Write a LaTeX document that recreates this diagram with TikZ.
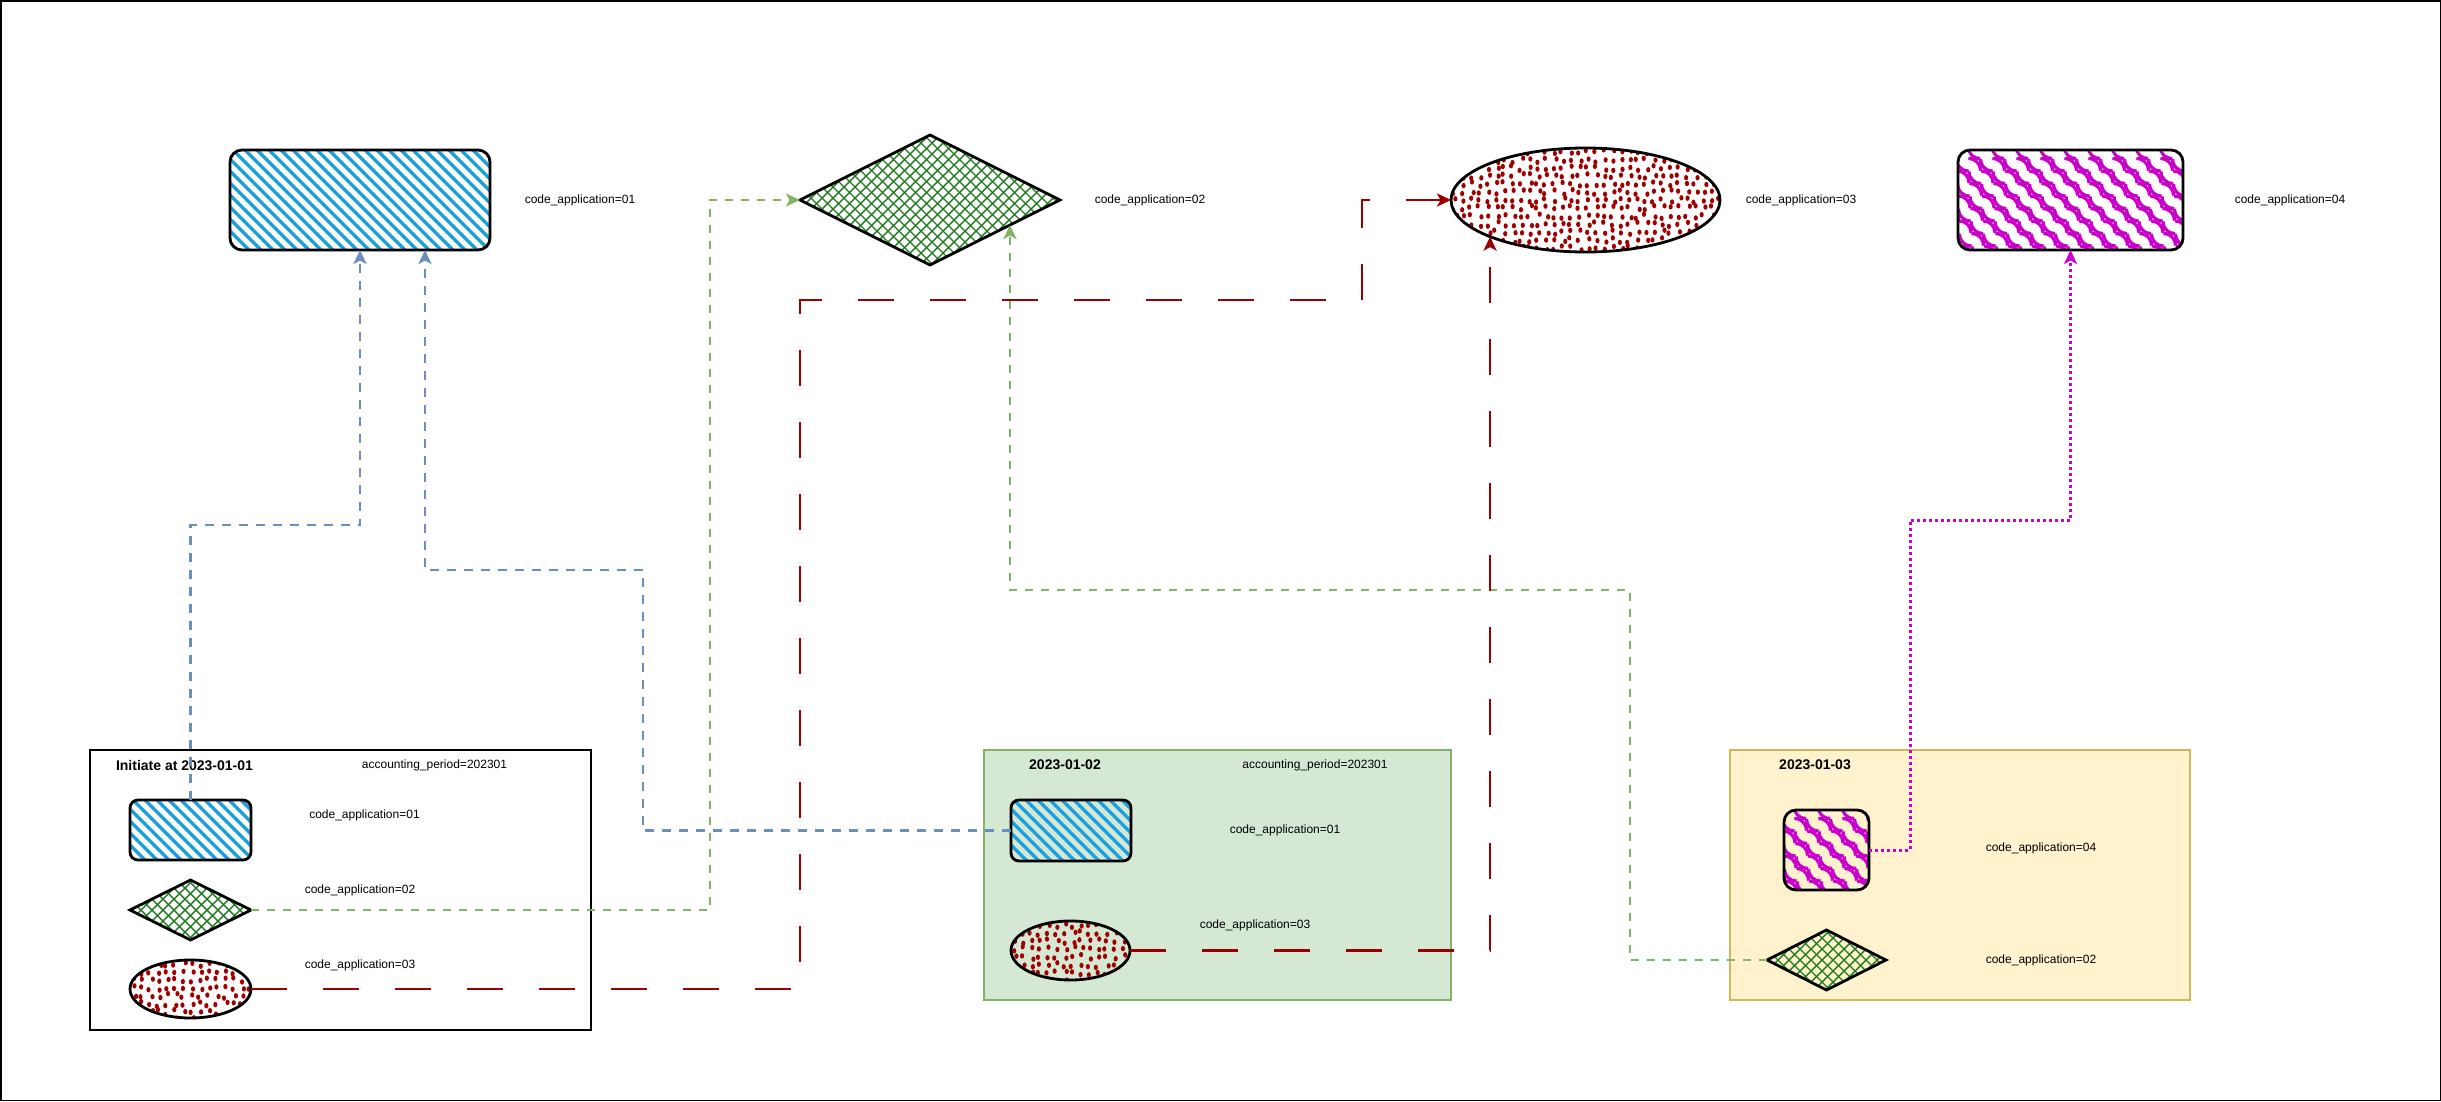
\documentclass[tikz,border=0pt]{standalone}
\usepackage{fontspec}
\setmainfont{Liberation Sans}
\usetikzlibrary{shapes.geometric,arrows.meta,calc}
\definecolor{hatchblue}{HTML}{1BA1E2}
\definecolor{hatchgreen}{HTML}{1E7B1E}
\definecolor{dotred}{HTML}{A00000}
\definecolor{zigmag}{HTML}{CC00CC}
\definecolor{lnblue}{HTML}{6C8EBF}
\definecolor{lngreen}{HTML}{82B366}
\definecolor{lnred}{HTML}{990000}
\definecolor{lnmag}{HTML}{CC00CC}
\definecolor{boxgreenfill}{HTML}{D5E8D4}
\definecolor{boxgreenline}{HTML}{82B366}
\definecolor{boxyellowfill}{HTML}{FFF2CC}
\definecolor{boxyellowline}{HTML}{D6B656}
\begin{document}
\begin{tikzpicture}[x=1pt,y=-1pt,
  outline/.style={draw=black, line width=2.8pt, inner sep=0pt, outer sep=0pt},
  rrect/.style={outline, rectangle, rounded corners=#1},
  dia/.style={outline, diamond},
  ellshape/.style={outline, ellipse},
  container/.style={rectangle, inner sep=0pt, outer sep=0pt},
  lbl/.style={font=\fontsize{12}{14}\selectfont, inner sep=0pt},
  ttl/.style={font=\fontsize{14}{16}\selectfont\bfseries, inner sep=0pt},
  bluehatch/.style={path picture={
    \foreach \k in {-12,...,24}{
      \draw[hatchblue, line width=3.2pt, line cap=round] ($(path picture bounding box.north west)+(\k*12,-3)$) -- ++(140,140);
    }}},
  crosshatch/.style={path picture={
    \foreach \k in {-12,...,34}{
      \draw[hatchgreen, line width=1.4pt] ($(path picture bounding box.north west)+(\k*11,-3)$) -- ++(150,150);
      \draw[hatchgreen, line width=1.4pt] ($(path picture bounding box.north west)+(\k*11,-3)$) -- ++(-150,150);
    }}},
  dotfill/.style={path picture={
    \foreach \a in {0,...,33}{
      \foreach \b in {0,...,13}{
        \fill[dotred] ($(path picture bounding box.north west)+(\a*8.3+rand*2.5+4,\b*8+rand*2.5+4)$) ellipse [x radius=2.1pt, y radius=2.7pt];
      }}}},
  magzig/.style={path picture={
    \foreach \k in {-10,...,12}{
      \draw[zigmag, line width=3pt, line cap=butt, line join=miter] ($(path picture bounding box.north west)+(\k*24+10,-4)$)
        \foreach \j in {1,...,10}{ -- ++(0,12.5) -- ++(12.5,0) };
    }}},
  arrowtip/.style={-{Stealth[length=14pt,width=13pt,inset=3.5pt]}},
  conblue/.style={draw=lnblue, line width=2.6pt, dash pattern=on 9pt off 8pt, arrowtip},
  congreen/.style={draw=lngreen, line width=2.6pt, dash pattern=on 8pt off 8pt, arrowtip},
  conred/.style={draw=lnred, line width=2.8pt, dash pattern=on 36pt off 36pt, arrowtip},
  conmag/.style={draw=lnmag, line width=3pt, dash pattern=on 3pt off 3pt, arrowtip}
]
\pgfmathsetseed{4242}
\useasboundingbox (0,0) rectangle (2441,1101);
\draw[black, line width=1.5pt] (0.75,0.75) rectangle (2440.25,1100.25);

% containers
\node[container, draw=black, line width=1.3pt, minimum width=501pt, minimum height=280pt] (cont1) at (340.5,890) {};
\node[container, draw=boxgreenline, fill=boxgreenfill, line width=1.3pt, minimum width=467pt, minimum height=250pt] (cont2) at (1217.5,875) {};
\node[container, draw=boxyellowline, fill=boxyellowfill, line width=1.3pt, minimum width=460pt, minimum height=250pt] (cont3) at (1960,875) {};

% container titles
\node[ttl] (t1) at (184.5,765) {Initiate at 2023-01-01};
\node[lbl] (p1) at (434.5,765) {accounting\_period=202301};
\node[ttl] (t2) at (1065,765) {2023-01-02};
\node[lbl] (p2) at (1315,765) {accounting\_period=202301};
\node[ttl] (t3) at (1815,765) {2023-01-03};

% top shapes
\node[rrect=12pt, bluehatch, minimum width=260pt, minimum height=100pt] (big1) at (360,200) {};
\node[dia, crosshatch, minimum width=260pt, minimum height=130pt] (bigdia) at (930,200) {};
\node[ellshape, dotfill, minimum width=269pt, minimum height=104pt] (bigell) at (1585.5,200) {};
\node[rrect=12pt, magzig, minimum width=225pt, minimum height=100pt] (mag) at (2070.5,200) {};

\node[lbl] (l1) at (580,200) {code\_application=01};
\node[lbl] (l2) at (1150,200) {code\_application=02};
\node[lbl] (l3) at (1801,200) {code\_application=03};
\node[lbl] (l4) at (2290,200) {code\_application=04};

% container 1 shapes
\node[rrect=8pt, bluehatch, minimum width=121pt, minimum height=60pt] (c1rect) at (190.5,830) {};
\node[dia, crosshatch, minimum width=121pt, minimum height=60pt] (c1dia) at (190.5,910) {};
\node[ellshape, dotfill, minimum width=121pt, minimum height=58pt] (c1ell) at (190.5,989) {};
\node[lbl] (c1l1) at (364.5,815) {code\_application=01};
\node[lbl] (c1l2) at (360,890) {code\_application=02};
\node[lbl] (c1l3) at (360,965) {code\_application=03};

% container 2 shapes
\node[rrect=8pt, bluehatch, minimum width=120pt, minimum height=61pt] (c2rect) at (1071,830.5) {};
\node[ellshape, dotfill, minimum width=119pt, minimum height=59pt] (c2ell) at (1070.5,950.5) {};
\node[lbl] (c2l1) at (1285,830) {code\_application=01};
\node[lbl] (c2l3) at (1255,925) {code\_application=03};

% container 3 shapes
\node[rrect=12pt, magzig, minimum width=85pt, minimum height=80pt] (c3mag) at (1826.5,850) {};
\node[dia, crosshatch, minimum width=119pt, minimum height=60pt] (c3dia) at (1826.5,960) {};
\node[lbl] (c3l4) at (2041,848) {code\_application=04};
\node[lbl] (c3l2) at (2041,960) {code\_application=02};

% connectors
\draw[conblue] (c1rect.north) -- ++(0,-275) -| (big1.south);
\draw[conblue] (c2rect.west) -| (643,570) -| ([xshift=65pt]big1.south);
\draw[congreen] (c1dia.east) -| (710,200) -- (bigdia.west);
\draw[congreen] (c3dia.west) -| (1630,590) -| ($(bigdia.south)!0.615!(bigdia.east)$);
\draw[conred] (c1ell.east) -| (800,300) -| (1362,200) -- (bigell.west);
\draw[conred] (c2ell.east) -| (bigell.201);
\draw[conmag] (c3mag.east) -| (1910,520) -| (mag.south);
\end{tikzpicture}
\end{document}
